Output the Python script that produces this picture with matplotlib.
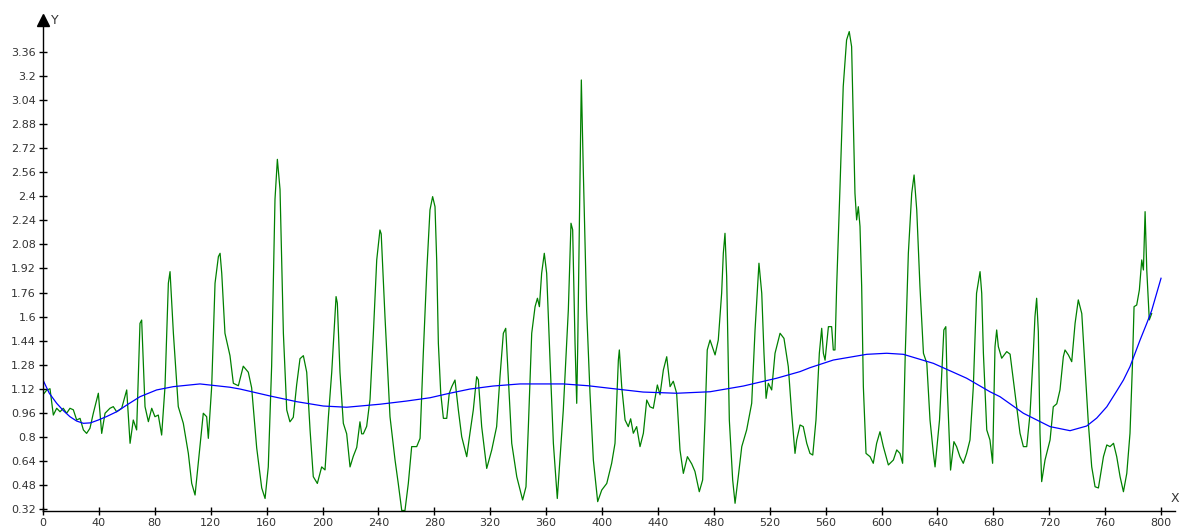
import matplotlib
matplotlib.use("Agg")
import matplotlib.pyplot as plt

# Valeurs
green_x = [0, 2.6, 5.0, 7.4, 9.8, 12.2, 14.5, 16.9, 19.3, 21.7, 24.1, 26.5, 28.9, 31.2, 33.6, 36.0, 39.6,
           42.0, 44.4, 47.9, 50.3, 52.7, 56.3, 59.9, 62.3, 64.6, 67.0, 69.4, 70.6, 73.0, 75.4, 77.8, 80.1,
           82.5, 84.9, 87.3, 89.7, 90.9, 93.3, 96.8, 100.4, 104.0, 106.4, 108.8, 111.1, 114.7, 117.1, 118.3,
           120.7, 123.1, 125.5, 126.7, 127.9, 130.2, 133.8, 136.2, 139.8, 143.3, 146.9, 149.3, 152.9, 156.5,
           158.9, 161.2, 163.6, 166.0, 167.7, 169.6, 172.0, 174.4, 176.7, 179.1, 181.5, 183.9, 186.3, 188.7,
           191.1, 193.4, 196.3, 199.4, 201.8, 204.2, 206.6, 208.2, 209.7, 210.6, 212.5, 214.9, 217.3, 219.7,
           222.0, 224.5, 226.8, 228.0, 229.2, 231.6, 234.0, 236.4, 238.8, 241.1, 242.0, 244.7, 248.3, 251.9,
           254.2, 256.7, 259.0, 261.4, 263.8, 267.4, 269.8, 272.1, 274.6, 276.9, 278.8, 280.5, 281.7, 282.9,
           284.6, 286.5, 288.9, 290.7, 292.5, 294.8, 297.2, 299.6, 303.2, 305.5, 307.9, 310.3, 311.5, 313.9,
           317.5, 321.1, 324.6, 327.0, 329.4, 331.1, 333.0, 335.4, 339.0, 343.2, 345.6, 347.3, 349.7, 352.1,
           353.8, 355.2, 356.8, 358.7, 360.4, 362.8, 365.2, 368.0, 369.9, 372.3, 375.9, 377.8, 379.0, 380.7,
           381.9, 382.6, 383.8, 385.2, 386.6, 389.0, 391.4, 393.8, 396.9, 399.8, 403.4, 406.9, 409.3, 411.7,
           412.4, 414.1, 416.5, 418.8, 420.5, 422.4, 424.8, 427.2, 429.6, 432.0, 434.3, 436.7, 439.6, 441.5,
           443.9, 446.3, 448.7, 451.0, 453.4, 455.8, 458.2, 461.1, 464.2, 466.5, 469.6, 472.0, 473.7, 475.3,
           477.3, 480.9, 483.2, 485.6, 486.8, 488.0, 489.2, 491.1, 493.5, 495.2, 497.5, 500.0, 503.5, 507.1,
           509.5, 512.3, 514.3, 515.9, 517.4, 519.0, 521.4, 523.8, 527.4, 530.2, 533.3, 535.7, 538.1, 539.3,
           541.7, 544.0, 546.5, 548.8, 550.8, 553.1, 555.5, 557.2, 558.4, 559.6, 562.0, 564.3, 565.5, 566.7,
           567.9, 570.3, 572.6, 575.0, 576.9, 578.6, 579.8, 581.0, 582.2, 583.4, 584.6, 585.8, 587.0, 588.9,
           591.8, 594.1, 596.5, 598.9, 601.3, 604.9, 608.5, 610.9, 613.2, 615.1, 617.0, 619.2, 621.6, 623.3,
           625.2, 627.5, 630.0, 632.4, 634.7, 637.1, 638.3, 641.5, 644.6, 646.0, 647.0, 649.4, 651.8, 653.7,
           656.1, 658.5, 660.9, 663.3, 665.7, 668.0, 670.5, 671.7, 672.9, 675.3, 677.6, 679.5, 681.2, 682.4,
           683.6, 686.0, 689.6, 692.0, 694.3, 696.7, 699.1, 701.5, 703.9, 706.3, 708.6, 709.8, 711.0, 712.2,
           713.4, 714.6, 717.0, 720.6, 722.9, 725.4, 727.7, 730.1, 731.3, 733.7, 736.1, 738.5, 740.8, 743.3,
           745.6, 748.0, 750.4, 752.8, 755.2, 758.8, 761.2, 763.5, 766.0, 768.3, 770.7, 773.1, 775.5, 777.8,
           779.5, 780.7, 782.6, 784.5, 786.2, 787.4, 788.6, 789.8, 791.6, 793.3]
green_y = [1.08, 1.11, 1.12, 0.945, 0.99, 0.967, 0.99, 0.957, 0.99, 0.98, 0.912, 0.923, 0.846, 0.823, 0.857,
           0.957, 1.09, 0.823, 0.957, 0.99, 1.001, 0.967, 0.99, 1.112, 0.757, 0.912, 0.846, 1.555, 1.577,
           1.001, 0.901, 0.99, 0.934, 0.945, 0.812, 1.134, 1.822, 1.899, 1.489, 1.001, 0.89, 0.69, 0.491,
           0.413, 0.624, 0.957, 0.934, 0.79, 1.134, 1.822, 1.999, 2.021, 1.888, 1.489, 1.34, 1.156, 1.14,
           1.27, 1.23, 1.126, 0.727, 0.46, 0.39, 0.60, 1.27, 2.38, 2.646, 2.446, 1.49, 0.979, 0.90, 0.93,
           1.146, 1.32, 1.34, 1.23, 0.845, 0.535, 0.49, 0.60, 0.58, 0.93, 1.23, 1.49, 1.733, 1.69, 1.23,
           0.89, 0.82, 0.60, 0.67, 0.73, 0.90, 0.82, 0.82, 0.87, 1.05, 1.49, 1.977, 2.176, 2.15, 1.60, 0.934,
           0.646, 0.49, 0.31, 0.31, 0.49, 0.735, 0.735, 0.79, 1.35, 1.9, 2.31, 2.398, 2.331, 1.977, 1.422,
           1.09, 0.923, 0.923, 1.09, 1.134, 1.178, 0.979, 0.801, 0.668, 0.824, 0.979, 1.20, 1.18, 0.868,
           0.59, 0.713, 0.868, 1.20, 1.489, 1.522, 1.178, 0.757, 0.535, 0.38, 0.468, 0.868, 1.489, 1.666,
           1.722, 1.666, 1.888, 2.021, 1.888, 1.311, 0.757, 0.39, 0.646, 0.979, 1.644, 2.221, 2.177, 1.422,
           1.023, 1.39, 2.2, 3.174, 2.575, 1.644, 1.09, 0.646, 0.369, 0.446, 0.49, 0.624, 0.757, 1.311,
           1.378, 1.134, 0.912, 0.868, 0.92, 0.824, 0.868, 0.735, 0.824, 1.045, 1.0, 0.99, 1.145, 1.08,
           1.245, 1.333, 1.134, 1.17, 1.09, 0.713, 0.557, 0.668, 0.62, 0.57, 0.435, 0.513, 0.912, 1.378,
           1.444, 1.345, 1.444, 1.755, 2.021, 2.154, 1.866, 0.912, 0.513, 0.358, 0.535, 0.735, 0.846, 1.023,
           1.511, 1.955, 1.755, 1.356, 1.056, 1.156, 1.112, 1.356, 1.489, 1.455, 1.267, 0.957, 0.69, 0.779,
           0.879, 0.868, 0.757, 0.69, 0.679, 0.912, 1.356, 1.522, 1.356, 1.31, 1.533, 1.533, 1.378, 1.378,
           1.799, 2.464, 3.13, 3.44, 3.496, 3.396, 2.908, 2.42, 2.243, 2.331, 2.2, 1.8, 1.134, 0.69,
           0.668, 0.624, 0.757, 0.834, 0.735, 0.613, 0.646, 0.713, 0.69, 0.624, 1.356, 2.021, 2.42, 2.542,
           2.31, 1.8, 1.356, 1.29, 0.912, 0.69, 0.6, 0.912, 1.511, 1.533, 1.134, 0.579, 0.768, 0.735,
           0.668, 0.624, 0.69, 0.779, 1.134, 1.755, 1.899, 1.755, 1.356, 0.846, 0.779, 0.624, 1.40, 1.511,
           1.40, 1.323, 1.367, 1.35, 1.178, 1.0, 0.824, 0.735, 0.735, 0.957, 1.356, 1.60, 1.722, 1.5,
           0.824, 0.502, 0.646, 0.779, 1.0, 1.02, 1.112, 1.333, 1.378, 1.345, 1.30, 1.555, 1.711, 1.62,
           1.267, 0.89, 0.601, 0.468, 0.46, 0.668, 0.746, 0.735, 0.757, 0.668, 0.535, 0.435, 0.557, 0.824,
           1.267, 1.666, 1.677, 1.777, 1.977, 1.91, 2.298, 1.91, 1.578, 1.62]

# Courbe de tendance (bleue)
trend_x = [0, 4.5, 9.8, 14.5, 19.3, 24.1, 28.9, 34.0, 39.6, 45.5, 52.7, 60.5, 69.4, 81.3, 93.3, 112.3,
           133.8, 141, 162.4, 181.5, 200.6, 217.3, 241.1, 260.0, 276.9, 290.0, 305.5, 322.0, 341.3, 372.3,
           390.0, 405.7, 429.4, 453.4, 477.3, 501.1, 525, 541.7, 548.8, 565.5, 589.4, 603.7, 615.6, 637.1,
           660.9, 677.6, 684.8, 701.5, 720.6, 734.9, 746.8, 754.0, 761.2, 768.3, 773.1, 777.8, 785, 789.8,
           793.3, 800]
trend_y = [1.178, 1.09, 1.023, 0.975, 0.934, 0.905, 0.89, 0.893, 0.912, 0.935, 0.967, 1.015, 1.067, 1.112,
           1.134, 1.152, 1.13, 1.118, 1.072, 1.034, 1.005, 0.997, 1.017, 1.038, 1.06, 1.088, 1.118, 1.138,
           1.152, 1.152, 1.14, 1.123, 1.098, 1.09, 1.10, 1.138, 1.19, 1.234, 1.26, 1.311, 1.349, 1.356,
           1.349, 1.289, 1.19, 1.10, 1.067, 0.957, 0.868, 0.841, 0.872, 0.925, 1.0, 1.105, 1.178, 1.267,
           1.444, 1.555, 1.64, 1.855]

x_ticks = list(range(0, 801, 40))
y_ticks = [0.32, 0.48, 0.64, 0.8, 0.96, 1.12, 1.28, 1.44, 1.6, 1.76, 1.92, 2.08, 2.24, 2.4, 2.56, 2.72,
           2.88, 3.04, 3.2, 3.36]

W, H = 1182, 527
fig = plt.figure(figsize=(W / 100, H / 100), dpi=100)
ax = fig.add_axes([43 / W, 16 / H, (1175 - 43) / W, (511 - 20) / H])

ax.plot(green_x, green_y, color="#008000", lw=0.9)
ax.plot(trend_x, trend_y, color="#0000ff", lw=0.9)

ax.set_xlim(0, 810)
ax.set_ylim(0.3067, 3.573)

ax.set_xticks(x_ticks)
ax.set_xticklabels([str(v) for v in x_ticks])
ax.set_yticks(y_ticks)
ax.set_yticklabels([("%g" % v) for v in y_ticks])

for s in ["top", "right"]:
    ax.spines[s].set_visible(False)
for s in ["left", "bottom"]:
    ax.spines[s].set_linewidth(1.0)
    ax.spines[s].set_color("black")

ax.tick_params(direction="inout", length=6, width=1, labelsize=8, pad=2,
               colors="black", labelcolor="#333333")

# Flèches au bout des axes
ax.plot(1, 0, ">", color="black", markersize=8, transform=ax.get_yaxis_transform(), clip_on=False)
ax.plot(0, 1, "^", color="black", markersize=8, transform=ax.get_xaxis_transform(), clip_on=False)

fig.text(51 / W, 1 - 20 / H, "Y", ha="left", va="center", fontsize=9, color="#333333")
fig.text(1175 / W, 1 - 499 / H, "X", ha="center", va="center", fontsize=9, color="#333333")

fig.savefig("out.png", dpi=100, facecolor="white")
